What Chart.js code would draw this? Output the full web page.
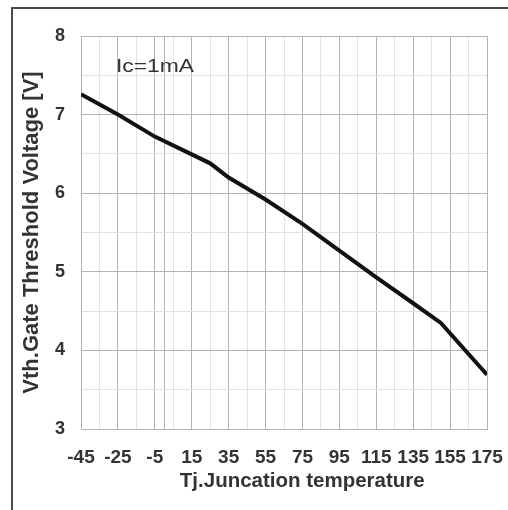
<!DOCTYPE html>
<html>
<head>
<meta charset="utf-8">
<script src="https://cdn.jsdelivr.net/npm/chart.js@4/dist/chart.umd.min.js"></script>
<style>
  html, body { margin: 0; padding: 0; background: #fff; overflow: hidden; width: 508px; height: 510px; }
  #frame { position: absolute; left: 11px; top: 7px; width: 600px; height: 600px; border-left: 2px solid #4a4a4a; border-top: 2px solid #4a4a4a; }
  #c { position: absolute; left: 0; top: 0; }
</style>
</head>
<body>
<div id="frame"></div>
<canvas id="c" width="508" height="510"></canvas>
<script>
// ---- data ----
const temperatures = [-45, -25, -5, 25, 35, 55, 75, 95, 115, 135, 150, 175];
const vth          = [7.26, 7.0, 6.72, 6.38, 6.2, 5.92, 5.61, 5.27, 4.93, 4.6, 4.35, 3.69];
const xTickLabels  = [-45, -25, -5, 15, 35, 55, 75, 95, 115, 135, 155, 175];
const xExtraMajor  = [0];
const yMin = 3, yMax = 8, yStep = 0.5;
const xTitle = 'Tj.Juncation temperature';
const yTitle = 'Vth.Gate Threshold Voltage [V]';
const note = 'Ic=1mA';

// grid positions: labelled ticks, mid-points, extra majors
const xGrid = [];
for (let i = 0; i < xTickLabels.length; i++) {
  xGrid.push(xTickLabels[i]);
  if (i < xTickLabels.length - 1) xGrid.push((xTickLabels[i] + xTickLabels[i + 1]) / 2);
}
xExtraMajor.forEach(v => xGrid.push(v));
xGrid.sort((a, b) => a - b);

const majorGrid = '#b3b3b3';
const minorGrid = '#e2e2e2';
const textCol = '#333333';
const FONT = "'Liberation Sans', Arial, sans-serif";

const overlay = {
  id: 'overlay',
  afterDraw(chart) {
    const ctx = chart.ctx;
    const xs = chart.scales.x, ys = chart.scales.y;
    ctx.save();
    ctx.fillStyle = textCol;
    ctx.font = "18px " + FONT;
    ctx.textBaseline = 'alphabetic';
    ctx.textAlign = 'left';
    const nx = xs.getPixelForValue(-25) - 2;
    const ny = ys.getPixelForValue(7.54);
    ctx.translate(nx, ny);
    ctx.scale(1.27, 1);
    ctx.fillText(note, 0, 0);
    ctx.restore();
    ctx.save();
    ctx.fillStyle = textCol;
    ctx.font = "bold 20.5px " + FONT;
    ctx.textAlign = 'center';
    ctx.textBaseline = 'alphabetic';
    const ca = chart.chartArea;
    ctx.fillText(xTitle, ca.left + (ca.right - ca.left) * 0.545, ca.bottom + 58);
    ctx.restore();
  }
};

new Chart(document.getElementById('c'), {
  type: 'line',
  data: {
    datasets: [{
      data: temperatures.map((t, i) => ({ x: t, y: vth[i] })),
      borderColor: '#111111',
      borderWidth: 4,
      pointRadius: 0,
      tension: 0,
      fill: false
    }]
  },
  options: {
    responsive: false,
    devicePixelRatio: 1,
    animation: false,
    events: [],
    layout: { padding: { top: 36, right: 21, left: 0, bottom: 0 } },
    plugins: { legend: { display: false }, tooltip: { enabled: false }, title: { display: false } },
    scales: {
      x: {
        type: 'linear',
        min: xTickLabels[0],
        max: xTickLabels[xTickLabels.length - 1],
        afterBuildTicks: (scale) => { scale.ticks = xGrid.map(v => ({ value: v })); },
        afterFit: (scale) => { scale.height = 81; scale.paddingLeft = 0; scale.paddingRight = 0; },
        grid: {
          drawTicks: false,
          color: (c) => (c.tick && (xTickLabels.includes(c.tick.value) || xExtraMajor.includes(c.tick.value))) ? majorGrid : minorGrid,
          lineWidth: 1
        },
        border: { color: majorGrid, width: 1 },
        ticks: {
          autoSkip: false,
          maxRotation: 0,
          minRotation: 0,
          padding: 17,
          color: textCol,
          font: { family: FONT, size: 19, weight: 'bold' },
          callback: (v) => xTickLabels.includes(v) ? String(v) : ''
        }
      },
      y: {
        min: yMin,
        max: yMax,
        afterFit: (scale) => { scale.width = 81; scale.paddingTop = 0; scale.paddingBottom = 0; },
        grid: {
          drawTicks: false,
          color: (c) => (c.tick && Number.isInteger(c.tick.value)) ? majorGrid : minorGrid,
          lineWidth: 1
        },
        border: { color: majorGrid, width: 1 },
        ticks: {
          stepSize: yStep,
          padding: 16,
          color: textCol,
          font: { family: FONT, size: 18, weight: 'bold' },
          callback: (v) => Number.isInteger(v) ? String(v) : ''
        },
        title: {
          display: true,
          text: yTitle,
          color: textCol,
          font: { family: FONT, size: 22, weight: 'bold' },
          padding: { top: 19, bottom: 0 }
        }
      }
    }
  },
  plugins: [overlay]
});
</script>
</body>
</html>
